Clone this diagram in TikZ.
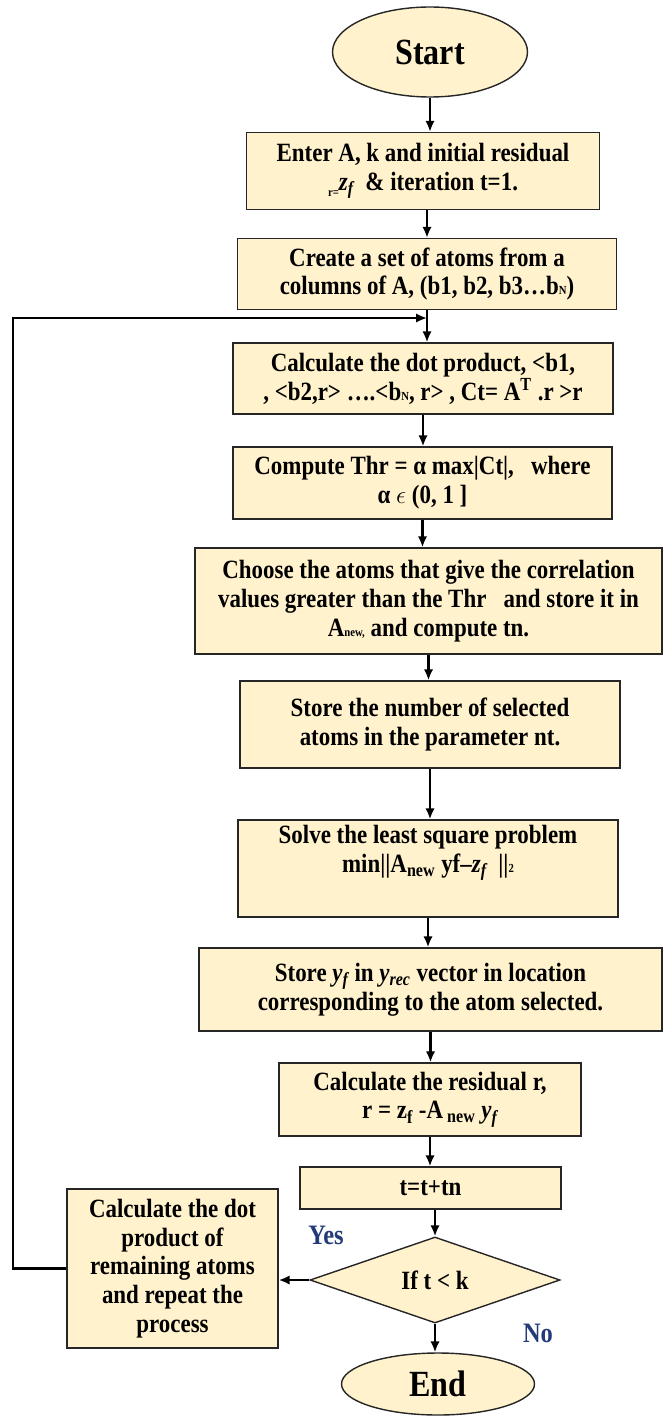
\documentclass[tikz,border=0pt]{standalone}
\usepackage{fontspec}
\setmainfont{Liberation Serif}[FakeStretch=0.87]
\usetikzlibrary{shapes.geometric,arrows.meta}
\definecolor{boxfill}{RGB}{255,242,204}
\definecolor{labelblue}{RGB}{35,60,120}
\begin{document}
\begin{tikzpicture}
	[
		every node/.style={font=\bfseries\fontsize{15}{16.4}\selectfont},
		Arrow/.style={draw,-{Latex[length=2.2mm,width=1.9mm]},line width=1.3pt}
	]
	\tikzstyle{Box} = [rectangle, align=center, draw=black!85, line width=0.8pt, fill=boxfill, inner sep=0pt]
	\tikzstyle{Term} = [ellipse, draw=black!85, line width=0.8pt, fill=boxfill, inner sep=0pt, font=\bfseries\fontsize{21}{23}\selectfont]
	\tikzstyle{Cond} = [diamond, draw=black!85, line width=0.8pt, fill=boxfill, inner sep=0pt]
	\tikzstyle{Label} = [text=labelblue, font=\bfseries\fontsize{16}{18}\selectfont]
	\useasboundingbox (0,0) rectangle (13.26,-28.32);
	\node [Term, minimum width=3.9cm, minimum height=1.8cm] (start) at (8.60,-1.04) {Start};
	\node [Box, minimum width=7.06cm, minimum height=1.54cm] (enter) at (8.46,-3.42)
		{Enter A, k and initial residual\\ \raisebox{-0.5ex}{\scriptsize r=}\textit{z\textsubscript{f}}\ \ \& iteration t=1.};
	\node [Box, minimum width=7.58cm, minimum height=1.42cm] (atoms) at (8.54,-5.48)
		{Create a set of atoms from a\\ columns of A, (b1, b2, b3…b{\scriptsize N})};
	\node [Box, minimum width=7.60cm, minimum height=1.42cm] (dot) at (8.46,-7.57)
		{Calculate the dot product, <b1,\\ , <b2,r> ….<b{\scriptsize N}, r> , Ct= A\textsuperscript{T} .r >r};
	\node [Box, minimum width=7.58cm, minimum height=1.44cm] (thr) at (8.45,-9.66)
		{Compute Thr = α max|Ct|,\ \ \ where\\ α $\epsilon$ (0, 1 ]};
	\node [Box, minimum width=9.34cm, minimum height=2.12cm] (choose) at (8.57,-12.02)
		{Choose the atoms that give the correlation\\ values greater than the Thr\ \ \ and store it in\\ A{\scriptsize new,} and compute tn.};
	\node [Box, minimum width=7.60cm, minimum height=1.74cm] (count) at (8.60,-14.49)
		{Store the number of selected\\ atoms in the parameter nt.};
	\node [Box, minimum width=7.60cm, minimum height=1.94cm] (solve) at (8.56,-17.37)
		{Solve the least square problem\\ min||A\textsubscript{new} yf–\textit{z\textsubscript{f}}\ \ ||{\scriptsize 2}\\[6pt]};
	\node [Box, minimum width=9.26cm, minimum height=1.66cm] (store) at (8.61,-19.79)
		{Store \textit{y\textsubscript{f}} in \textit{y\textsubscript{rec}} vector in location\\ corresponding to the atom selected.};
	\node [Box, minimum width=6.04cm, minimum height=1.46cm] (resid) at (8.60,-21.99)
		{Calculate the residual r,\\ r = z\textsubscript{f} -A\textsubscript{ new} \textit{y\textsubscript{f}}};
	\node [Box, minimum width=5.22cm, minimum height=0.84cm] (update) at (8.61,-23.76) {t=t+tn};
	\node [Cond, minimum width=5.0cm, minimum height=1.52cm] (check) at (8.70,-25.60) {If t < k};
	\node [Term, minimum width=3.86cm, minimum height=1.24cm] (end) at (8.76,-27.68) {End};
	\node [Box, minimum width=4.22cm, minimum height=3.18cm] (repeat) at (3.45,-25.37)
		{Calculate the dot\\ product of\\ remaining atoms\\ and repeat the\\ process};
	\node [Label] (yes) at (6.52,-24.70) {Yes};
	\node [Label] (no) at (10.76,-26.66) {No};
	\coordinate (loop) at (0.26,-6.36);
	\coordinate (join) at (8.54,-6.36);
	\draw [Arrow] (start.south) -- (start.south |- enter.north);
	\draw [Arrow] (enter.south -| atoms) -- (atoms.north);
	\draw [Arrow] (atoms.south) -- (atoms.south |- dot.north);
	\draw [Arrow] (dot.south) -- (dot.south |- thr.north);
	\draw [Arrow] (thr.south) -- (thr.south |- choose.north);
	\draw [Arrow] (choose.south) -- (choose.south |- count.north);
	\draw [Arrow] (count.south) -- (count.south |- solve.north);
	\draw [Arrow] (solve.south) -- (solve.south |- store.north);
	\draw [Arrow] (store.south) -- (store.south |- resid.north);
	\draw [Arrow] (resid.south) -- (resid.south |- update.north);
	\draw [Arrow] (update.south -| check) -- (check.north);
	\draw [Arrow] (check.south) -- (check.south |- end.north);
	\draw [Arrow] (check.west) -- (check.west -| repeat.east);
	\draw [Arrow] (repeat.west) -- (repeat.west -| loop) |- (join);
\end{tikzpicture}
\end{document}
